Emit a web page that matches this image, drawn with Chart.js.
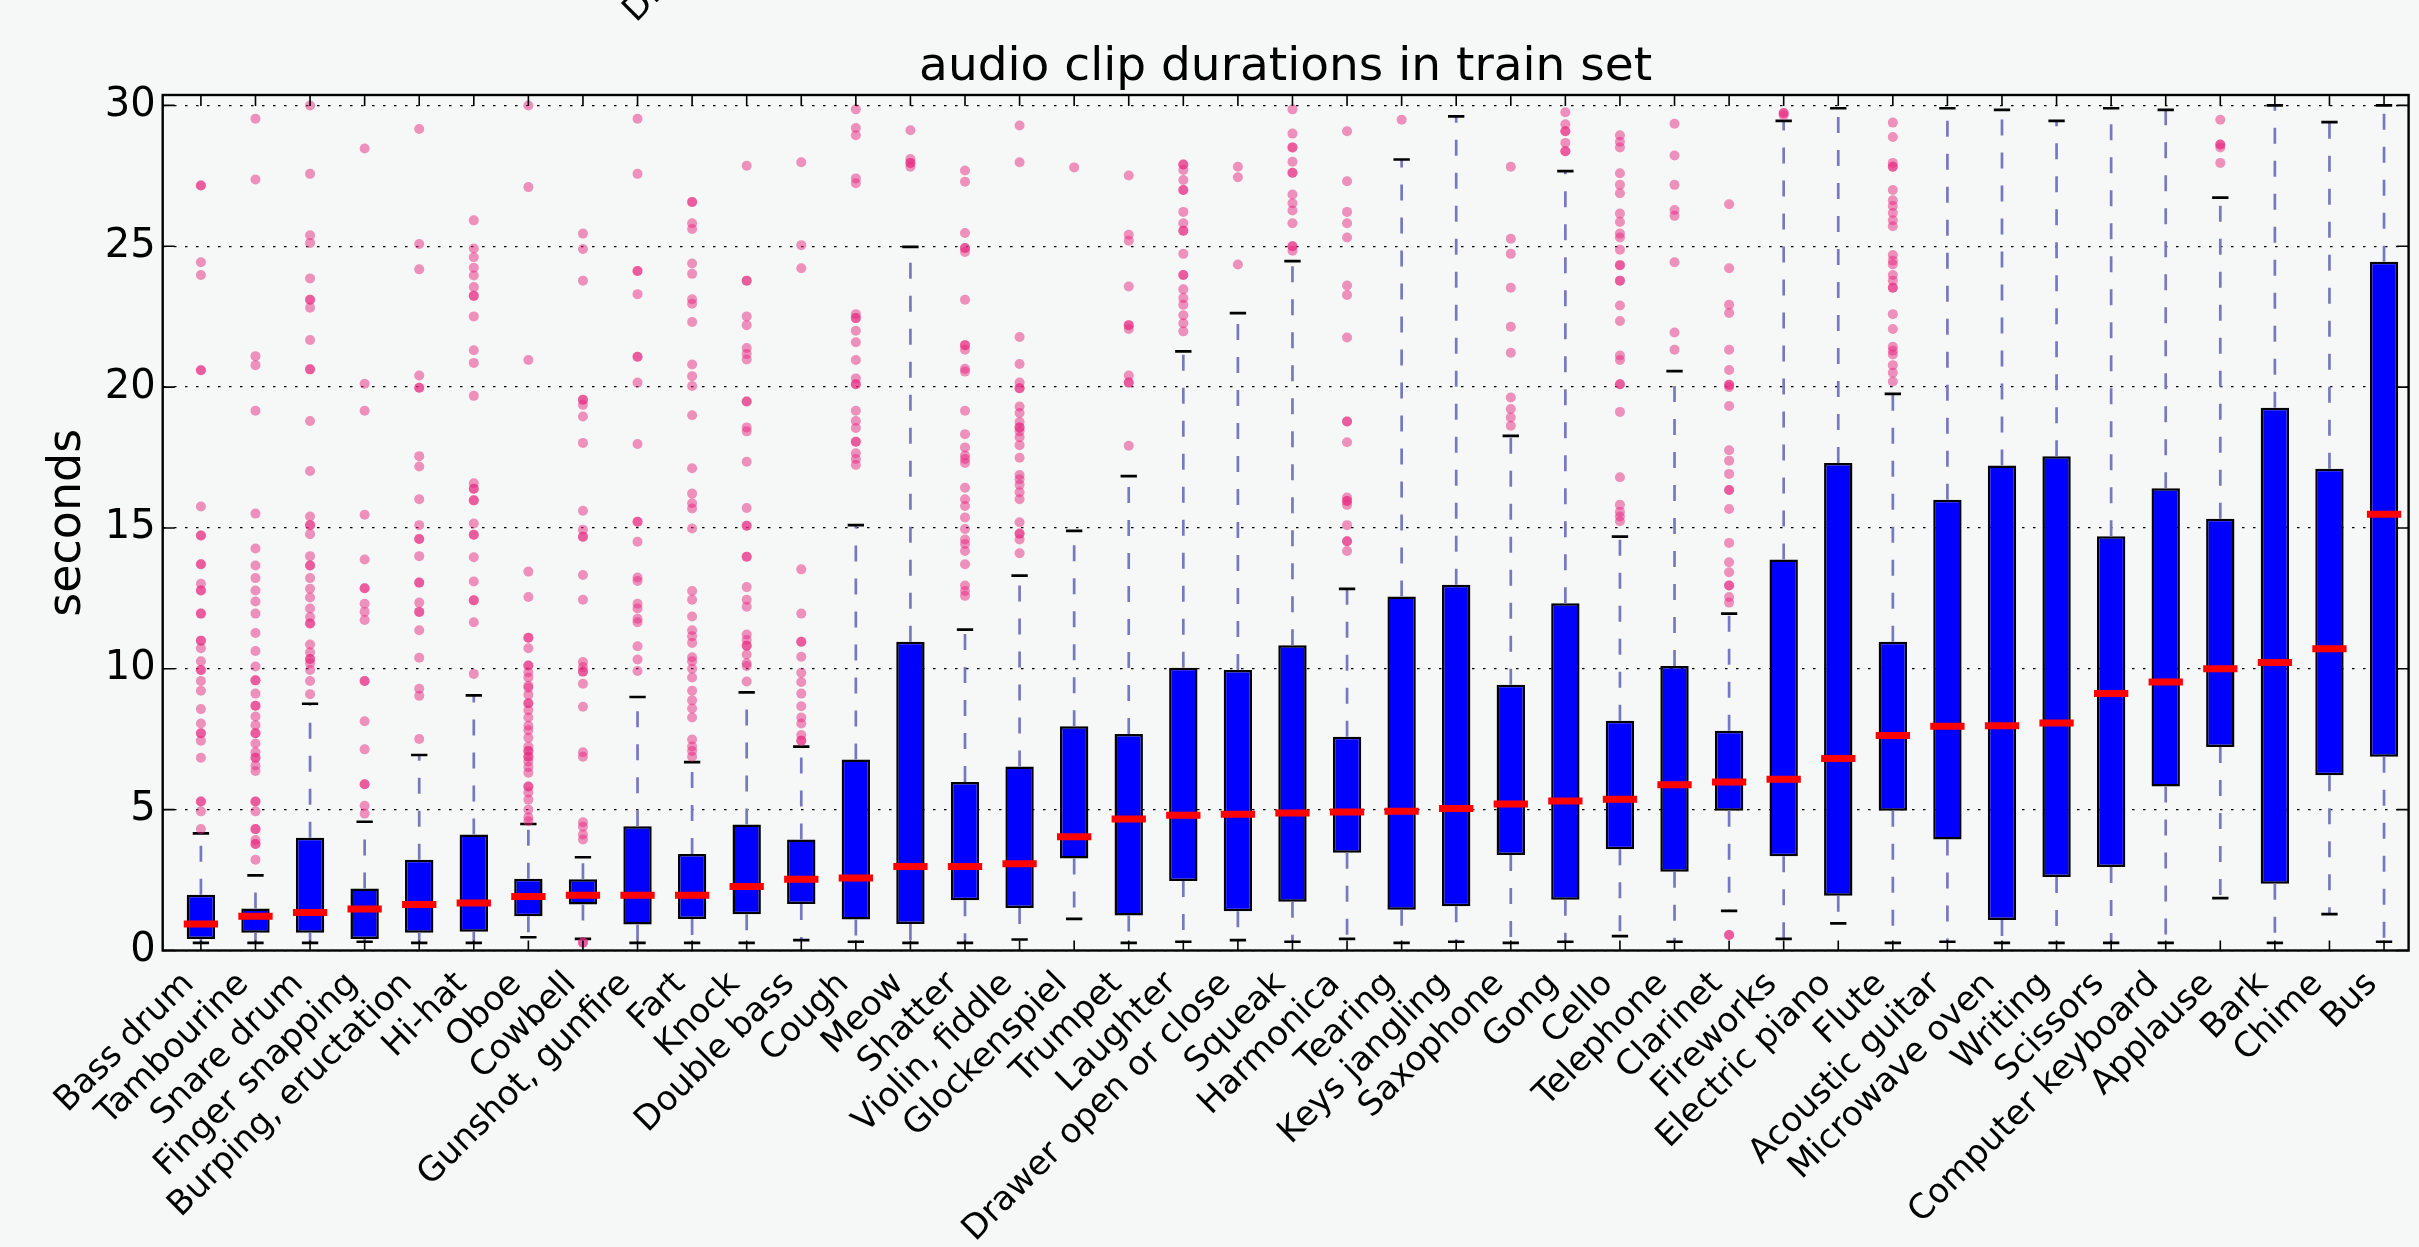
<!DOCTYPE html>
<html>
<head>
<meta charset="utf-8">
<script src="https://cdn.jsdelivr.net/npm/chart.js@4.4.1/dist/chart.umd.min.js"></script>
<style>
  html, body { margin: 0; padding: 0; background: #f5f8f7; overflow: hidden; }
  canvas { display: block; }
</style>
</head>
<body>
<canvas id="chart" width="2419" height="1247"></canvas>
<script>
// Per-class clip-duration statistics (seconds), ordered by median.
const categories = [
  "Bass drum", "Tambourine", "Snare drum", "Finger snapping", "Burping, eructation",
  "Hi-hat", "Oboe", "Cowbell", "Gunshot, gunfire", "Fart", "Knock", "Double bass",
  "Cough", "Meow", "Shatter", "Violin, fiddle", "Glockenspiel", "Trumpet", "Laughter",
  "Drawer open or close", "Squeak", "Harmonica", "Tearing", "Keys jangling", "Saxophone",
  "Gong", "Cello", "Telephone", "Clarinet", "Fireworks", "Electric piano", "Flute",
  "Acoustic guitar", "Microwave oven", "Writing", "Scissors", "Computer keyboard",
  "Applause", "Bark", "Chime", "Bus"
];

const q1 = [0.41, 0.63, 0.63, 0.41, 0.63, 0.67, 1.22, 1.63, 0.92, 1.12, 1.29, 1.65, 1.10, 0.94,
  1.78, 1.51, 3.27, 1.24, 2.47, 1.39, 1.73, 3.47, 1.45, 1.57, 3.39, 1.80, 3.59, 2.80, 4.96,
  3.35, 1.94, 4.96, 3.94, 1.08, 2.61, 2.96, 5.82, 7.22, 2.37, 6.22, 6.88];

const medians = [0.94, 1.22, 1.35, 1.47, 1.63, 1.69, 1.92, 1.96, 1.96, 1.96, 2.27, 2.53, 2.57,
  2.98, 2.98, 3.08, 4.04, 4.67, 4.80, 4.84, 4.88, 4.92, 4.94, 5.04, 5.20, 5.31, 5.37, 5.88,
  5.98, 6.08, 6.82, 7.63, 7.96, 7.98, 8.08, 9.12, 9.53, 10.0, 10.22, 10.71, 15.49];

const q3 = [1.98, 1.49, 4.00, 2.20, 3.22, 4.12, 2.55, 2.53, 4.41, 3.43, 4.47, 3.94, 6.78, 10.96,
  5.98, 6.53, 7.96, 7.69, 10.04, 9.96, 10.84, 7.59, 12.57, 12.98, 9.43, 12.33, 8.16, 10.10,
  7.80, 13.88, 17.31, 10.96, 16.0, 17.22, 17.55, 14.71, 16.41, 15.33, 19.27, 17.10, 24.45];

const whiskerLow = [0.27, 0.27, 0.27, 0.31, 0.27, 0.27, 0.47, 0.41, 0.27, 0.27, 0.27, 0.37, 0.31,
  0.27, 0.27, 0.39, 1.12, 0.27, 0.31, 0.37, 0.31, 0.41, 0.27, 0.31, 0.27, 0.31, 0.51, 0.31,
  1.41, 0.41, 0.96, 0.27, 0.31, 0.27, 0.27, 0.27, 0.27, 1.86, 0.27, 1.29, 0.31];

const whiskerHigh = [4.16, 2.67, 8.76, 4.57, 6.94, 9.06, 4.49, 3.31, 9.0, 6.69, 9.16, 7.24, 15.1,
  24.98, 11.39, 13.31, 14.9, 16.84, 21.27, 22.63, 24.47, 12.84, 28.08, 29.61, 18.27, 27.67,
  14.69, 20.57, 11.96, 29.45, 29.9, 19.76, 29.9, 29.84, 29.45, 29.9, 29.84, 26.73, 30.0, 29.41, 30.0];

const outliers = [
  [27.16, 27.16, 24.43, 23.98, 20.6, 20.6, 15.76, 14.73, 14.73, 13.71, 13.71, 13.02, 12.78, 12.78,
   11.96, 11.96, 11.0, 11.0, 10.73, 10.27, 9.96, 9.96, 9.57, 9.22, 8.57, 8.06, 7.71, 7.71, 7.45,
   6.84, 5.29, 5.29, 4.94, 4.31],
  [29.53, 27.37, 21.1, 20.78, 19.16, 15.51, 14.27, 13.67, 13.22, 12.78, 12.39, 11.96, 11.27, 10.63,
   10.08, 9.59, 9.59, 9.12, 8.69, 8.69, 8.31, 8.0, 7.71, 7.71, 7.35, 7.04, 6.84, 6.84, 6.57, 6.37,
   5.29, 5.29, 4.94, 4.31, 4.31, 3.92, 3.78, 3.78, 3.22],
  [30.0, 27.57, 25.39, 25.12, 23.86, 23.1, 23.1, 22.82, 21.67, 20.63, 20.63, 18.8, 17.02, 15.41,
   15.1, 15.1, 14.78, 14.0, 13.67, 13.67, 13.22, 12.84, 12.53, 12.14, 11.84, 11.61, 11.61, 10.86,
   10.59, 10.35, 10.35, 10.2, 9.96, 9.57, 9.1],
  [28.47, 20.12, 19.16, 15.47, 13.88, 12.86, 12.86, 12.31, 12.02, 11.73, 9.57, 9.57, 8.14, 7.14,
   5.9, 5.9, 5.14, 4.86],
  [29.16, 25.08, 24.18, 20.41, 19.98, 19.98, 17.55, 17.18, 16.02, 15.1, 14.61, 14.61, 14.0, 13.06,
   13.06, 12.35, 12.02, 12.02, 11.37, 10.39, 9.29, 9.04, 7.51],
  [25.92, 24.92, 24.61, 24.24, 23.96, 23.55, 23.24, 23.24, 22.51, 21.31, 20.86, 19.69, 16.59, 16.39,
   16.39, 15.98, 15.98, 15.16, 14.76, 14.76, 13.96, 13.1, 12.43, 12.43, 11.65, 9.82],
  [30.0, 27.1, 20.96, 13.45, 12.55, 11.1, 11.1, 10.73, 10.12, 10.12, 9.88, 9.69, 9.4, 9.33, 9.08,
   8.78, 8.78, 8.53, 8.27, 7.98, 7.82, 7.55, 7.24, 7.08, 7.08, 6.88, 6.88, 6.71, 6.51, 6.31, 5.82,
   5.82, 5.61, 5.35, 5.0, 4.73, 4.59],
  [25.45, 24.9, 23.78, 19.55, 19.55, 19.37, 18.96, 18.02, 15.61, 14.94, 14.69, 14.69, 13.33, 12.45,
   10.24, 10.06, 9.9, 9.9, 9.47, 8.65, 7.04, 6.88, 4.55, 4.39, 4.12, 3.94, 0.28, 0.28],
  [29.53, 27.57, 24.12, 24.12, 23.3, 21.08, 21.08, 20.16, 17.98, 15.22, 15.22, 14.51, 13.24, 13.12,
   12.31, 12.14, 11.78, 11.65, 10.8, 10.33, 9.92],
  [26.57, 26.57, 25.82, 25.61, 24.39, 24.02, 23.12, 22.96, 22.31, 20.8, 20.39, 20.04, 19.0, 17.12,
   16.22, 15.88, 15.69, 14.98, 12.76, 12.45, 11.86, 11.37, 11.16, 10.92, 10.41, 10.27, 10.0, 9.69,
   9.22, 8.88, 8.59, 8.27, 7.49, 7.24, 7.08, 6.88],
  [27.86, 23.78, 23.78, 22.51, 22.2, 21.39, 21.18, 20.98, 19.49, 19.49, 18.57, 18.43, 17.35, 15.71,
   15.08, 15.08, 13.98, 13.98, 12.9, 12.45, 12.2, 11.22, 11.02, 10.82, 10.82, 10.51, 10.2, 10.1, 9.55],
  [27.98, 25.04, 24.22, 13.53, 11.96, 10.96, 10.96, 10.43, 9.86, 9.53, 9.12, 8.67, 8.27, 8.06, 7.65,
   7.45, 7.45],
  [29.86, 29.2, 28.94, 27.41, 27.24, 22.59, 22.45, 22.45, 22.0, 21.59, 20.96, 20.31, 20.1, 20.1,
   19.16, 18.8, 18.55, 18.06, 18.06, 17.65, 17.45, 17.24],
  [29.12, 28.1, 27.96, 27.96, 27.82],
  [27.69, 27.29, 25.47, 24.94, 24.94, 24.8, 23.1, 21.49, 21.49, 21.33, 20.65, 20.55, 19.16, 18.33,
   17.86, 17.57, 17.45, 17.31, 16.43, 16.02, 15.78, 15.37, 14.96, 14.59, 14.43, 14.18, 13.71, 12.96,
   12.76, 12.59],
  [29.29, 27.98, 21.78, 20.82, 20.16, 19.96, 19.96, 19.31, 19.08, 18.76, 18.57, 18.57, 18.43, 18.22,
   17.94, 17.49, 16.88, 16.73, 16.53, 16.27, 16.02, 15.2, 14.8, 14.8, 14.59, 14.1],
  [27.8],
  [27.51, 25.41, 25.2, 23.57, 22.2, 22.2, 22.06, 20.41, 20.16, 20.16, 17.92],
  [27.9, 27.9, 27.71, 27.35, 27.0, 27.0, 26.22, 25.82, 25.55, 25.55, 24.73, 23.98, 23.98, 23.47,
   23.16, 22.92, 22.55, 22.27, 21.98],
  [27.82, 27.45, 24.35],
  [29.86, 29.0, 28.51, 28.51, 28.0, 27.61, 27.61, 26.84, 26.53, 26.27, 25.82, 25.0, 25.0, 24.84],
  [29.08, 27.31, 26.22, 25.82, 25.31, 23.61, 23.27, 21.76, 18.78, 18.78, 18.04, 16.08, 15.96, 15.96,
   15.82, 15.1, 14.53, 14.53, 14.18],
  [29.49],
  [],
  [27.82, 25.27, 24.73, 23.53, 22.14, 21.22, 19.63, 19.22, 18.92, 18.63],
  [29.76, 29.33, 29.08, 29.08, 28.67, 28.37, 28.37],
  [28.94, 28.71, 28.51, 27.59, 27.18, 26.88, 26.16, 25.86, 25.45, 25.31, 24.88, 24.33, 24.33, 23.78,
   23.78, 22.9, 22.35, 21.12, 20.96, 20.1, 20.1, 19.12, 16.8, 15.82, 15.57, 15.41, 15.24],
  [29.35, 28.22, 27.18, 26.29, 26.08, 24.43, 21.94, 21.33],
  [26.49, 24.22, 22.92, 22.63, 21.33, 20.61, 20.08, 20.08, 20.0, 19.33, 17.76, 17.39, 16.92, 16.35,
   16.35, 15.67, 14.47, 13.78, 13.43, 12.96, 12.96, 12.55, 12.35, 0.55, 0.55],
  [29.73, 29.73, 29.65],
  [],
  [29.39, 28.88, 27.96, 27.82, 27.82, 27.0, 26.63, 26.43, 26.18, 25.92, 25.71, 24.69, 24.49, 24.35,
   23.98, 23.78, 23.53, 23.53, 22.59, 22.06, 21.43, 21.29, 21.16, 20.78, 20.51, 20.2],
  [], [], [], [], [],
  [29.49, 28.61, 28.61, 28.51, 27.96],
  [], [], []
];

const yTickValues = [0, 5, 10, 15, 20, 25, 30];
const chartTitle = "audio clip durations in train set";
const yAxisTitle = "seconds";
const upperLabel = "Drawer open or close";

// ---- drawing ----
const FONT = "'DejaVu Sans', 'Liberation Sans', sans-serif";
const CAP_HALF = 0.125;     // half cap length, in category units
const MEDIAN_HALF = 0.25;   // half median bar length, in category units

const boxData = [];
const whiskerData = [];
const capData = [];
const medianData = [];
const outlierData = [];
categories.forEach((_, i) => {
  boxData.push({ x: i, y: [q1[i], q3[i]] });
  whiskerData.push(
    { x: i, y: q1[i] }, { x: i, y: whiskerLow[i] }, { x: i, y: null },
    { x: i, y: q3[i] }, { x: i, y: whiskerHigh[i] }, { x: i, y: null }
  );
  capData.push(
    { x: i - CAP_HALF, y: whiskerLow[i] }, { x: i + CAP_HALF, y: whiskerLow[i] }, { x: i + CAP_HALF, y: null },
    { x: i - CAP_HALF, y: whiskerHigh[i] }, { x: i + CAP_HALF, y: whiskerHigh[i] }, { x: i + CAP_HALF, y: null }
  );
  medianData.push(
    { x: i - MEDIAN_HALF, y: medians[i] }, { x: i + MEDIAN_HALF, y: medians[i] }, { x: i + MEDIAN_HALF, y: null }
  );
  outliers[i].forEach(v => outlierData.push({ x: i, y: v }));
});

// Axes frame with inward tick marks on all four sides.
const frame = {
  id: 'frame',
  afterDatasetsDraw(chart) {
    const { ctx, chartArea: { left, right, top, bottom }, scales: { x, y } } = chart;
    ctx.save();
    ctx.strokeStyle = '#000';
    ctx.lineWidth = 1.6;
    ctx.beginPath();
    categories.forEach((_, i) => {
      const px = x.getPixelForValue(i);
      ctx.moveTo(px, bottom); ctx.lineTo(px, bottom - 10);
      ctx.moveTo(px, top); ctx.lineTo(px, top + 11);
    });
    yTickValues.forEach(v => {
      const py = y.getPixelForValue(v);
      ctx.moveTo(left, py); ctx.lineTo(left + 12, py);
      ctx.moveTo(right, py); ctx.lineTo(right - 12, py);
    });
    ctx.stroke();
    ctx.lineWidth = 2.4;
    ctx.strokeRect(left, top, right - left, bottom - top);
    ctx.restore();
  },
  afterDraw(chart) {
    // tick label of the panel above, running off the top edge
    const ctx = chart.ctx;
    ctx.save();
    ctx.translate(636, 23);
    ctx.rotate(-Math.PI / 4);
    ctx.font = `34px ${FONT}`;
    ctx.fillStyle = '#000';
    ctx.textBaseline = 'alphabetic';
    ctx.fillText(upperLabel, 0, 0);
    ctx.restore();
  }
};

new Chart(document.getElementById('chart'), {
  type: 'bar',
  data: {
    datasets: [
      {
        type: 'bar', data: boxData, order: 4,
        backgroundColor: '#0000ff', borderColor: '#000', borderWidth: 2.5, borderSkipped: false,
        barPercentage: 0.52, categoryPercentage: 1
      },
      {
        type: 'line', data: whiskerData, order: 3,
        borderColor: 'rgb(120,120,190)', borderWidth: 2.7, borderDash: [16, 17],
        pointRadius: 0, fill: false, spanGaps: false, tension: 0
      },
      {
        type: 'line', data: capData, order: 2,
        borderColor: '#000', borderWidth: 2.7, borderCapStyle: 'square',
        pointRadius: 0, fill: false, spanGaps: false, tension: 0
      },
      {
        type: 'line', data: medianData, order: 1,
        borderColor: '#f00', borderWidth: 7, borderCapStyle: 'square',
        pointRadius: 0, fill: false, spanGaps: false, tension: 0
      },
      {
        type: 'scatter', data: outlierData, order: 0,
        pointRadius: 5, backgroundColor: 'rgba(232,40,130,0.5)', borderWidth: 0, showLine: false
      }
    ]
  },
  options: {
    responsive: false,
    animation: false,
    devicePixelRatio: 1,
    events: [],
    layout: { padding: { left: 0, right: 6, top: 0, bottom: 0 } },
    plugins: {
      legend: { display: false },
      tooltip: { enabled: false },
      title: {
        display: true, text: chartTitle, color: '#000', fullSize: false,
        font: { family: FONT, size: 47, weight: 'normal', lineHeight: 1.1 },
        padding: { top: 41.8, bottom: 1.5 }
      }
    },
    scales: {
      x: {
        type: 'linear', min: -0.7, max: 40.45, offset: false,
        grid: { display: false }, border: { display: false },
        afterBuildTicks: s => { s.ticks = categories.map((_, i) => ({ value: i })); },
        afterFit: s => { s.height = 296.5; },
        ticks: {
          autoSkip: false, minRotation: 45, maxRotation: 45, color: '#000',
          font: { family: FONT, size: 34 }, padding: 6, labelOffset: -12,
          callback: v => categories[v]
        }
      },
      y: {
        type: 'linear', min: 0, max: 30.37,
        afterBuildTicks: s => { s.ticks = yTickValues.map(v => ({ value: v })); },
        afterFit: s => { s.width = 162.7; },
        grid: { color: '#000', lineWidth: 1.3, drawTicks: false },
        border: { display: false, dash: [2.5, 8.5] },
        ticks: { color: '#000', font: { family: FONT, size: 40 }, padding: 7, callback: v => String(v) },
        title: {
          display: true, text: yAxisTitle, color: '#000',
          font: { family: FONT, size: 46 }, padding: { top: 40.4, bottom: 0 }
        }
      }
    }
  },
  plugins: [frame]
});
</script>
</body>
</html>
